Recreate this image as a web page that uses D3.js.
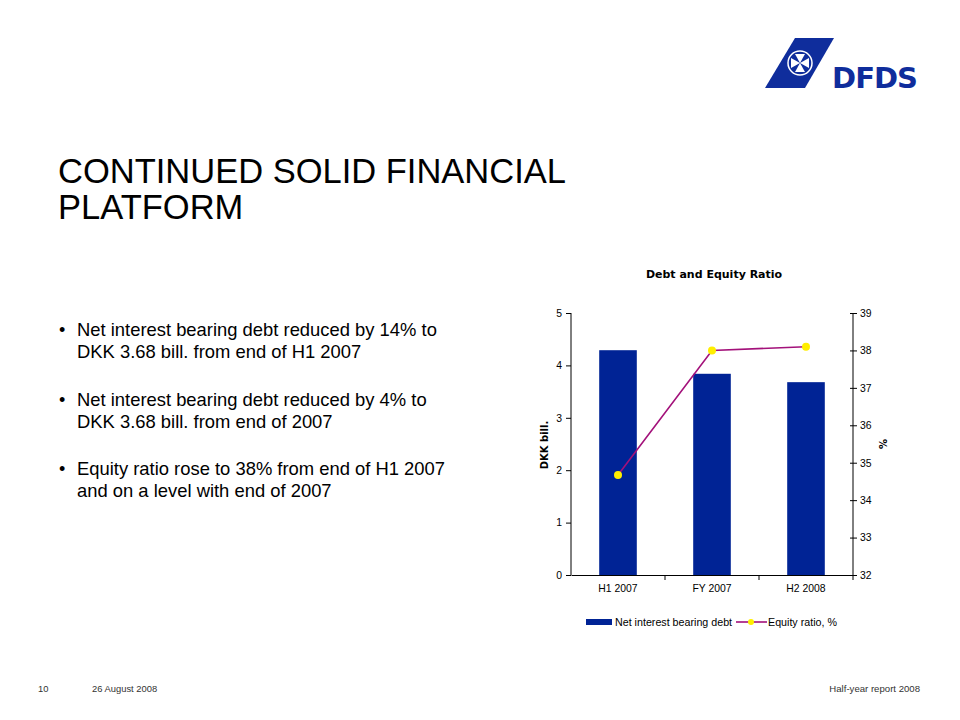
<!DOCTYPE html>
<html>
<head>
<meta charset="utf-8">
<script src="https://cdn.jsdelivr.net/npm/d3@7"></script>
<style>
  body { margin: 0; background: #fff; }
  svg text { font-family: "Liberation Sans", Arial, sans-serif; }
</style>
</head>
<body>
<div id="slide"></div>
<script>
// chart data
const categories = ['H1 2007', 'FY 2007', 'H2 2008'];
const debtValues = [4.29, 3.84, 3.68];
const equityValues = [34.67, 38.0, 38.1];
const leftTicks = [0, 1, 2, 3, 4, 5];
const rightTicks = [32, 33, 34, 35, 36, 37, 38, 39];

const bullets = [
    ['Net interest bearing debt reduced by 14% to', 'DKK 3.68 bill. from end of H1 2007'],
    ['Net interest bearing debt reduced by 4% to', 'DKK 3.68 bill. from end of 2007'],
    ['Equity ratio rose to 38% from end of H1 2007', 'and on a level with end of 2007']
];

const width = 960, height = 720;
const svg = d3.select('#slide').append('svg')
    .attr('width', width)
    .attr('height', height);

// logo
const logo = svg.append('g');
logo.append('path')
    .attr('d', 'M795,38 L834,38 L805,88 L765,88 Z')
    .attr('fill', '#0f2d9c');
logo.append('circle').attr('cx', 800).attr('cy', 63).attr('r', 12)
    .attr('fill', 'none').attr('stroke', '#fff').attr('stroke-width', 1.5);
// simple maltese style cross
const cross = logo.append('g').attr('transform', 'translate(800,63)');
[0, 90, 180, 270].forEach(a => {
    cross.append('path')
        .attr('d', 'M0,0 L-5,-9 L5,-9 Z')
        .attr('fill', '#fff')
        .attr('transform', `rotate(${a})`);
});
logo.append('text')
    .attr('x', 832).attr('y', 88)
    .attr('font-size', 29).attr('font-weight', 'bold')
    .attr('fill', '#0f2d9c')
    .style('font-family', '"DejaVu Sans", sans-serif')
    .attr('textLength', 86)
    .text('DFDS');

// heading
svg.append('text').attr('x', 58).attr('y', 183)
    .attr('font-size', 34.5).text('CONTINUED SOLID FINANCIAL');
svg.append('text').attr('x', 58).attr('y', 219)
    .attr('font-size', 34.5).text('PLATFORM');

// bullets
bullets.forEach((b, i) => {
    const y0 = 336 + i * 69.5;
    svg.append('text').attr('x', 59).attr('y', y0).attr('font-size', 18).text('•');
    b.forEach((line, j) => {
        svg.append('text').attr('x', 77).attr('y', y0 + j * 22)
            .attr('font-size', 18.4).text(line);
    });
});

// footer
svg.append('text').attr('x', 38).attr('y', 692).attr('font-size', 9.4).attr('fill', '#333').text('10');
svg.append('text').attr('x', 92).attr('y', 692).attr('font-size', 9.4).attr('fill', '#333').text('26 August 2008');
svg.append('text').attr('x', 920).attr('y', 692).attr('font-size', 9.6).attr('fill', '#333')
    .attr('text-anchor', 'end').text('Half-year report 2008');

// chart
const plot = { left: 571, right: 853, top: 313, bottom: 575 };

const x = d3.scaleBand()
    .domain(categories)
    .range([plot.left, plot.right])
    .paddingInner(0.6)
    .paddingOuter(0.3);

const band = d3.scaleBand().domain(categories).range([plot.left, plot.right]);

const yLeft = d3.scaleLinear().domain([0, 5]).range([plot.bottom, plot.top]);
const yRight = d3.scaleLinear().domain([32, 39]).range([plot.bottom, plot.top]);

const chart = svg.append('g');

chart.append('text')
    .attr('x', 714).attr('y', 278)
    .attr('text-anchor', 'middle')
    .attr('font-size', 11).attr('font-weight', 'bold')
    .style('font-family', '"DejaVu Sans", Verdana, sans-serif')
    .text('Debt and Equity Ratio');

// bars
chart.selectAll('rect.bar')
    .data(debtValues)
    .enter()
    .append('rect')
    .attr('class', 'bar')
    .attr('x', (d, i) => x(categories[i]))
    .attr('width', x.bandwidth())
    .attr('y', d => yLeft(d))
    .attr('height', d => yLeft(0) - yLeft(d))
    .attr('fill', '#002395');

// left axis
const leftAxis = chart.append('g')
    .attr('transform', `translate(${plot.left},0)`)
    .call(d3.axisLeft(yLeft).tickValues(leftTicks).tickSize(5).tickPadding(4).tickFormat(d3.format('d')));

// right axis
const rightAxis = chart.append('g')
    .attr('transform', `translate(${plot.right},0)`)
    .call(d3.axisRight(yRight).tickValues(rightTicks).tickSize(4).tickPadding(3).tickFormat(d3.format('d')));
rightAxis.selectAll('.tick line').attr('x1', -3);

// bottom axis
const bottomAxis = chart.append('g')
    .attr('transform', `translate(0,${plot.bottom})`)
    .call(d3.axisBottom(band).tickSize(0).tickPadding(10));
bottomAxis.selectAll('.tick')
    .append('line')
    .attr('x1', band.bandwidth() / 2).attr('x2', band.bandwidth() / 2)
    .attr('y1', 0).attr('y2', 5)
    .attr('stroke', '#000');

[leftAxis, rightAxis, bottomAxis].forEach(a => {
    a.select('.domain').attr('stroke', '#000');
    a.selectAll('.tick line').attr('stroke', '#000');
    a.selectAll('text')
        .attr('font-size', 10.4)
        .attr('fill', '#000')
        .style('font-family', '"Liberation Sans", Arial, sans-serif');
});
leftAxis.select('.domain').attr('d', `M0,${plot.top}V${plot.bottom}`);
rightAxis.select('.domain').attr('d', `M0,${plot.top}V${plot.bottom}`);

// axis titles
chart.append('text')
    .attr('transform', `translate(548,445) rotate(-90)`)
    .attr('text-anchor', 'middle')
    .attr('font-size', 10).attr('font-weight', 'bold')
    .style('font-family', '"DejaVu Sans", Verdana, sans-serif')
    .text('DKK bill.');
chart.append('text')
    .attr('transform', `translate(887,444) rotate(-90)`)
    .attr('text-anchor', 'middle')
    .attr('font-size', 10).attr('font-weight', 'bold')
    .style('font-family', '"DejaVu Sans", Verdana, sans-serif')
    .text('%');

// equity line
const line = d3.line()
    .x((d, i) => band(categories[i]) + band.bandwidth() / 2)
    .y(d => yRight(d));

chart.append('path')
    .datum(equityValues)
    .attr('d', line)
    .attr('fill', 'none')
    .attr('stroke', '#a3117a')
    .attr('stroke-width', 1.6);

chart.selectAll('circle.pt')
    .data(equityValues)
    .enter()
    .append('circle')
    .attr('class', 'pt')
    .attr('cx', (d, i) => band(categories[i]) + band.bandwidth() / 2)
    .attr('cy', d => yRight(d))
    .attr('r', 4)
    .attr('fill', '#ffee00');

// legend
const legend = chart.append('g').attr('transform', 'translate(0,622)');
legend.append('rect')
    .attr('x', 586).attr('y', -3).attr('width', 26).attr('height', 6)
    .attr('fill', '#002395');
legend.append('text')
    .attr('x', 615).attr('y', 4)
    .attr('font-size', 10.7).text('Net interest bearing debt');
legend.append('line')
    .attr('x1', 736).attr('x2', 767).attr('y1', 0).attr('y2', 0)
    .attr('stroke', '#a3117a').attr('stroke-width', 1.6);
legend.append('circle')
    .attr('cx', 751).attr('cy', 0).attr('r', 3)
    .attr('fill', '#ffee00');
legend.append('text')
    .attr('x', 768).attr('y', 4)
    .attr('font-size', 10.7).text('Equity ratio, %');
</script>
</body>
</html>
